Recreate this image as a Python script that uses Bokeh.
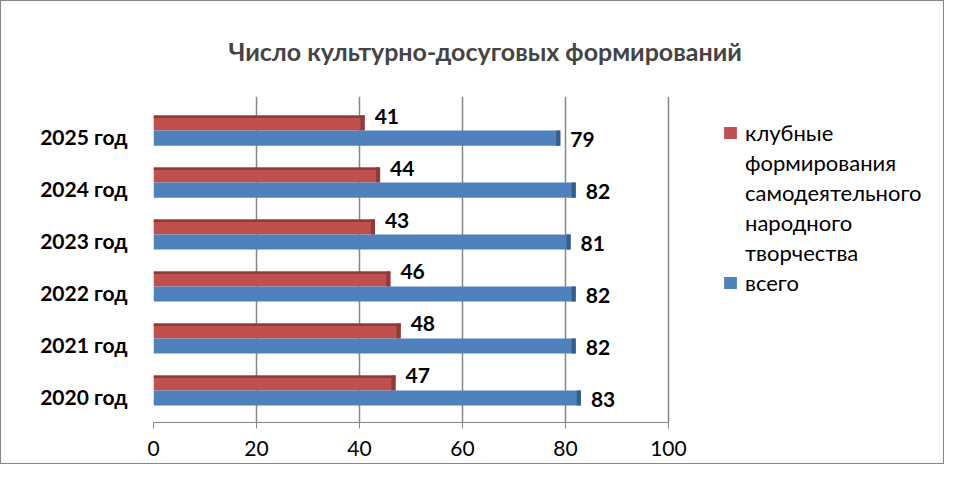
from bokeh.plotting import figure
from bokeh.models import Range1d, ColumnDataSource, Legend, LegendItem, LabelSet
from bokeh.core.properties import value
from bokeh.transform import dodge
from bokeh.embed import file_html
from bokeh.resources import INLINE

years = ["2020 год", "2021 год", "2022 год", "2023 год", "2024 год", "2025 год"]
club = [47, 48, 46, 43, 44, 41]
total = [83, 82, 82, 81, 82, 79]
x_ticks = [0, 20, 40, 60, 80, 100]
club_name_lines = ["клубные", "формирования", "самодеятельного", "народного", "творчества"]
total_name = "всего"
title_text = "Число культурно-досуговых формирований"

FONT = "Lato"
RED = "#C0504D"
RED_D = "#8E3A38"
BLUE = "#4F81BD"
BLUE_D = "#385D8A"
GRAY = "#868686"

idx = list(range(len(years)))
src = ColumnDataSource(dict(
    y=idx, club=club, total=total,
    club_lbl=[str(v) for v in club], total_lbl=[str(v) for v in total],
    club_cap=[v - 0.8 for v in club], total_cap=[v - 0.8 for v in total],
))

# frame spans to the right edge so the legend can sit inside it; axis 0..100 only
p = figure(width=944, height=464, y_range=Range1d(-0.5, len(years) - 0.23),
           x_range=Range1d(x_ticks[0], x_ticks[-1] * 1.538),
           output_backend="svg", toolbar_location=None,
           min_border_left=152, min_border_right=0, min_border_top=95, min_border_bottom=43)
p.outline_line_color = None
p.styles = {"border": "1px solid " + GRAY, "box-sizing": "border-box"}

p.title.text = title_text
p.title.align = "left"
p.title.offset = 75
p.title.text_font = FONT
p.title.text_font_size = "25px"
p.title.text_font_style = "bold"
p.title.standoff = 62

H = 0.29
DR = 0.26
DB = -0.03
r_club = p.hbar(y=dodge("y", DR), right="club", left=0, height=H, source=src,
                fill_color=RED, line_color=None)
p.hbar(y=dodge("y", DR), left="club_cap", right="club", height=H, source=src,
       fill_color=RED_D, line_color=None)
p.hbar(y=dodge("y", DR + H / 2 - 0.025), right="club", left=0, height=0.05, source=src,
       fill_color=RED_D, line_color=None)
r_total = p.hbar(y=dodge("y", DB), right="total", left=0, height=H, source=src,
                 fill_color=BLUE, line_color=None)
p.hbar(y=dodge("y", DB), left="total_cap", right="total", height=H, source=src,
       fill_color=BLUE_D, line_color=None)
r_blank = p.hbar(y=dodge("y", DB), right="total", left=0, height=H, source=src,
                 fill_alpha=0, line_alpha=0)

p.add_layout(LabelSet(x="club", y=dodge("y", DR), text="club_lbl", source=src,
                      x_offset=10, y_offset=7, text_baseline="middle", text_font=value(FONT),
                      text_font_size=value("21px"), text_font_style=value("bold"), text_color=value("black")))
p.add_layout(LabelSet(x="total", y=dodge("y", DB), text="total_lbl", source=src,
                      x_offset=10, y_offset=-1, text_baseline="middle", text_font=value(FONT),
                      text_font_size=value("21px"), text_font_style=value("bold"), text_color=value("black")))

p.xaxis.ticker = x_ticks
p.xaxis.bounds = (x_ticks[0], x_ticks[-1])
p.xaxis.axis_line_color = GRAY
p.xaxis.major_tick_line_color = GRAY
p.xaxis.major_tick_in = 0
p.xaxis.major_tick_out = 6
p.xaxis.minor_tick_line_color = None
p.xaxis.major_label_text_font = FONT
p.xaxis.major_label_text_font_size = "21px"
p.xaxis.major_label_standoff = 12
p.xaxis.major_label_text_color = "black"

p.yaxis.ticker = idx
p.yaxis.major_label_overrides = {i: y for i, y in zip(idx, years)}
p.yaxis.axis_line_color = None
p.yaxis.major_tick_line_color = None
p.yaxis.minor_tick_line_color = None
p.yaxis.major_label_text_font = FONT
p.yaxis.major_label_text_font_size = "21px"
p.yaxis.major_label_text_font_style = "bold"
p.yaxis.major_label_standoff = 20
p.yaxis.major_label_text_color = "black"

p.xgrid.grid_line_color = GRAY
p.xgrid.grid_line_width = 1.5
p.ygrid.grid_line_color = None

items = [LegendItem(label=club_name_lines[0], renderers=[r_club])]
for line in club_name_lines[1:]:
    items.append(LegendItem(label=line, renderers=[r_blank]))
items.append(LegendItem(label=total_name, renderers=[r_total]))

legend = Legend(items=items, location=(569, 126), margin=0, padding=6, border_line_color=None,
                background_fill_alpha=0,
                label_text_font=FONT, label_text_font_size="22px", label_text_color="black",
                glyph_width=16, glyph_height=15, spacing=3, label_height=24, label_standoff=7)
p.add_layout(legend, "center")

open("out.html", "w").write(file_html(p, INLINE))
